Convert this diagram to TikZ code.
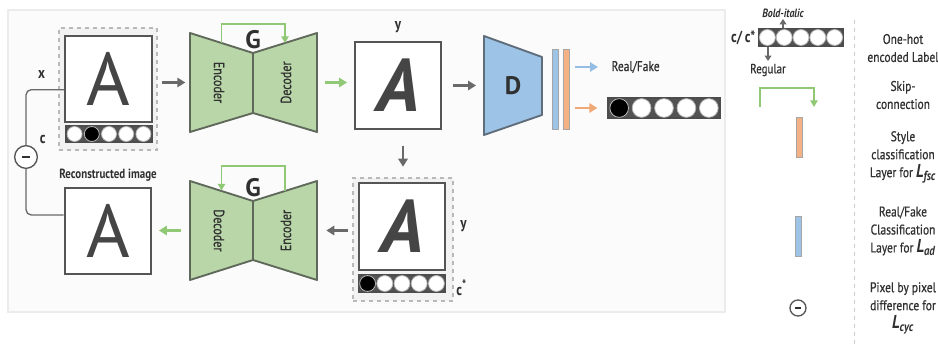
\documentclass[tikz,border=0pt]{standalone}
\usepackage{fontspec}
\setmainfont[FakeStretch=0.82]{PT Sans}
\newfontfamily\glyphfont{PT Sans}
\newfontfamily\medfont[FakeStretch=0.82,FakeBold=0.6]{PT Sans}
\usepackage{tikz}
\usetikzlibrary{arrows.meta,positioning,calc}
\definecolor{gfill}{RGB}{184,214,168}
\definecolor{gedge}{RGB}{95,104,90}
\definecolor{gline}{RGB}{145,200,118}
\definecolor{dfill}{RGB}{157,195,230}
\definecolor{dedge}{RGB}{95,108,122}
\definecolor{bline}{RGB}{150,190,228}
\definecolor{ofill}{RGB}{244,177,131}
\definecolor{oline}{RGB}{240,168,118}
\definecolor{txt}{RGB}{48,48,48}
\definecolor{arrgray}{RGB}{105,105,105}
\definecolor{boxgray}{RGB}{85,85,85}
% one-hot label bar: name, x, y, width, height, filled slot (0 = none)
\newcommand{\hotbar}[6]{%
  \node[hotbar, minimum width=#4*0.75pt, minimum height=#5*0.75pt] (#1) at (#2,#3) {};
  \foreach \k in {1,...,5}{%
    \ifnum\k=#6\relax\def\slotcol{black}\else\def\slotcol{white}\fi
    \draw[slot, fill=\slotcol] ({#2-#4/2+(\k-0.5)*#4/5},#3) circle[radius=#5*0.35pt];
  }%
}
% loss name in the key
\newcommand{\Lterm}[1]{{\normalfont\bfseries\itshape\fontsize{14}{14}\selectfont L\textsubscript{#1}}}

\begin{document}
\begin{tikzpicture}[
    x=0.75pt, y=-0.75pt,
    panel/.style={fill=gray!3, draw=gray!15, line width=0.8pt},
    imgbox/.style={draw=boxgray, line width=1.4pt, fill=white, minimum size=65pt, inner sep=0pt,
        text=txt!90!white, font=\glyphfont\fontsize{56}{56}\selectfont},
    wrapbox/.style={draw=gray!55, dashed, line width=0.9pt, fill=gray!10, inner sep=0pt},
    half/.style={draw=gedge, fill=gfill, line width=1.4pt, line join=round},
    halftext/.style={font=\medfont\fontsize{11}{11}\selectfont, text=txt, inner sep=0pt},
    disc/.style={draw=dedge, fill=dfill, line width=1.4pt, line join=round},
    bar/.style={draw=gray!70, line width=0.6pt, inner sep=0pt, minimum width=4.5pt, minimum height=60pt},
    hotbar/.style={draw=gray!60!black, fill=gray!65!black, line width=1pt, inner sep=0pt},
    slot/.style={draw=gray!55, line width=0.6pt},
    minus/.style={circle, draw=boxgray, line width=1pt, fill=white, minimum size=17pt, inner sep=0pt, text=txt},
    grayarrow/.style={-{Triangle[length=6pt,width=7pt]}, line width=2pt, draw=arrgray, fill=arrgray},
    greenarrow/.style={grayarrow, draw=gline, fill=gline},
    bluearrow/.style={grayarrow, draw=bline, fill=bline},
    orangearrow/.style={grayarrow, draw=oline, fill=oline},
    smallarrow/.style={-{Triangle[length=4pt,width=5pt]}, line width=1.4pt, draw=arrgray},
    skip/.style={-{Triangle[length=5pt,width=5.5pt]}, line width=1.3pt, draw=gline},
    wire/.style={draw=arrgray, line width=1pt, rounded corners=4pt},
    lbl/.style={font=\fontsize{12}{12}\selectfont\bfseries, text=txt, inner sep=1pt},
    big/.style={font=\glyphfont\fontsize{19}{19}\selectfont\bfseries, text=txt, inner sep=0pt},
    keytext/.style={align=center, font=\medfont\fontsize{10.5}{13.5}\selectfont, text=txt, inner sep=1pt},
    keysmall/.style={font=\medfont\fontsize{10}{10}\selectfont, text=txt, inner sep=1pt},
    sep/.style={draw=gray!40, dashed, line width=0.6pt}
]
\fill[white] (0,0) rectangle (938,346);
\useasboundingbox (0,0) rectangle (938,346);
\draw[panel] (8,10) rectangle (725,312);

% Source image and its label
\node[wrapbox, minimum width=73.5pt, minimum height=91.5pt] (xwrap) at (108,89) {};
\node[imgbox] (ximg) at (108.5,79) {A};
\hotbar{xbar}{109}{134}{86}{16}{2}
\node[lbl] (xlab) at ([xshift=-17pt,yshift=3pt]ximg.west) {x};
\node[lbl] (clab) at ([xshift=-17pt,yshift=-3.75pt]xbar.west) {c};

% Generator, forward pass
\draw[half] (190,33) -- (253,53) -- (253,113) -- (190,132) -- cycle;
\draw[half] (253,53) -- (317,33) -- (317,132) -- (253,113) -- cycle;
\node[halftext, rotate=-90] (g1enc) at (219,82.5) {Encoder};
\node[halftext, rotate=90] (g1dec) at (286,82.5) {Decoder};
\node[big] (g1lab) at (253,40) {G};
\coordinate (g1in) at (190,82.5);
\coordinate (g1out) at (317,82.5);
\coordinate (g1skipa) at (221.5,43);
\coordinate (g1skipb) at (285,43);
\draw[skip] (g1skipa) -- ++(0,-19) -| (g1skipb);

% Generated image
\node[imgbox, font=\glyphfont\fontsize{56}{56}\selectfont\bfseries\itshape] (yimg) at (398,85.5) {A};
\node[lbl, above=5pt of yimg] (ylab) {y};

% Discriminator and its two heads
\draw[disc] (484,36) -- (542,57) -- (542,115) -- (484,135) -- cycle;
\node[big] (dnet) at (513,85.5) {D};
\coordinate (din) at (484,85.5);
\node[bar, fill=dfill] (advbar) at (555,89) {};
\node[bar, fill=ofill] (clsbar) at (566,89) {};
\node[keytext, anchor=west] (rf) at (610,67) {Real/Fake};
\hotbar{outbar}{664}{108}{112}{20}{1}

% Generated image with target label
\node[wrapbox, minimum width=75pt, minimum height=92.25pt] (ywrap) at (403,239.5) {};
\node[imgbox, font=\glyphfont\fontsize{56}{56}\selectfont\bfseries\itshape] (ysimg) at (402,226.5) {A};
\hotbar{csbar}{402}{283.5}{86}{17}{1}
\node[lbl] (ylab2) at ([xshift=13pt]ysimg.east) {y};
\node[lbl] (cslab) at ([xshift=12pt,yshift=-3pt]csbar.east) {c\textsuperscript{\fontsize{10}{10}\selectfont *}};

% Generator, reconstruction pass
\draw[half] (190,181) -- (253,201) -- (253,260) -- (190,280) -- cycle;
\draw[half] (253,201) -- (317,181) -- (317,280) -- (253,260) -- cycle;
\node[halftext, rotate=-90] (g2dec) at (219,230.5) {Decoder};
\node[halftext, rotate=90] (g2enc) at (286,230.5) {Encoder};
\node[big] (g2lab) at (253,188) {G};
\coordinate (g2out) at (190,230.5);
\coordinate (g2in) at (317,230.5);
\coordinate (g2skipa) at (285,191);
\coordinate (g2skipb) at (221.5,190.5);
\draw[skip] (g2skipa) -- ++(0,-25) -| (g2skipb);

% Reconstructed image
\node[imgbox] (recimg) at (108,231) {A};
\node[lbl, font=\fontsize{10}{10}\selectfont\bfseries, above=3pt of recimg] (reclab) {Reconstructed image};

% Pixel difference between source and reconstruction
\node[minus] (diff) at (26,157) {\rule{6pt}{1.5pt}};
\draw[wire] ([yshift=-8pt]ximg.west) -| (diff.north);
\draw[wire] (diff.south) |- ([yshift=12pt]recimg.west);

% Arrows between the stages
\draw[grayarrow, shorten <=3.5pt, shorten >=3.5pt] (xwrap.east |- g1in) -- (g1in);
\draw[greenarrow, shorten <=6pt, shorten >=5pt] (g1out) -- (g1out -| yimg.west);
\draw[grayarrow, shorten <=8pt, shorten >=6pt] (yimg.east |- din) -- (din);
\draw[grayarrow, shorten <=12pt, shorten >=8pt] (yimg.south -| ywrap.north) -- (ywrap.north);
\draw[bluearrow, shorten <=4.5pt, shorten >=9pt] (clsbar.east |- rf.west) -- (rf.west);
\draw[orangearrow, shorten <=4.5pt, shorten >=7.5pt] (clsbar.east |- outbar.west) -- (outbar.west);
\draw[grayarrow, shorten <=3pt, shorten >=7pt] (ywrap.west |- g2in) -- (g2in);
\draw[greenarrow, shorten <=7pt, shorten >=5pt] (g2out) -- (g2out -| recimg.east);

% Key
\coordinate (septop) at (854,20);
\coordinate (sepbot) at (854,346);
\draw[sep] (septop) -- (sepbot);
\hotbar{keybar}{801}{37.5}{84}{17}{0}
\node[lbl, left=1pt of keybar] (keyc) {c/\,c*};
\node[keysmall, font=\fontsize{9}{9}\selectfont\bfseries\itshape] (bi) at (783,13) {Bold-italic};
\node[keysmall] (reg) at (768,70) {Regular};
\draw[smallarrow] (bi.south |- keybar.north) -- (bi.south);
\draw[smallarrow, shorten >=1pt] (reg.north |- keybar.south) -- (reg.north);
\coordinate (skipa) at (760,107);
\coordinate (skipb) at (814,107);
\draw[skip] (skipa) -- ++(0,-19) -| (skipb);
\node[bar, fill=ofill, minimum height=30pt] (keycls) at (799,137) {};
\node[bar, fill=dfill, minimum height=30pt, minimum width=5pt] (keyadv) at (798.5,236) {};
\node[minus, minimum size=12pt] (keydiff) at (798,308) {\rule{4pt}{1.2pt}};

\node[keytext] (k1) at (903,48) {One-hot\\encoded Label};
\node[keytext] (k2) at (903,95) {Skip-\\connection};
\node[keytext] (k3) at (903,157) {Style\\classification\\Layer for \Lterm{fsc}};
\node[keytext] (k4) at (903,231) {Real/Fake\\Classification\\Layer for \Lterm{ad}};
\node[keytext] (k5) at (903,308) {Pixel by pixel\\difference for\\\Lterm{cyc}};
\end{tikzpicture}
\end{document}
